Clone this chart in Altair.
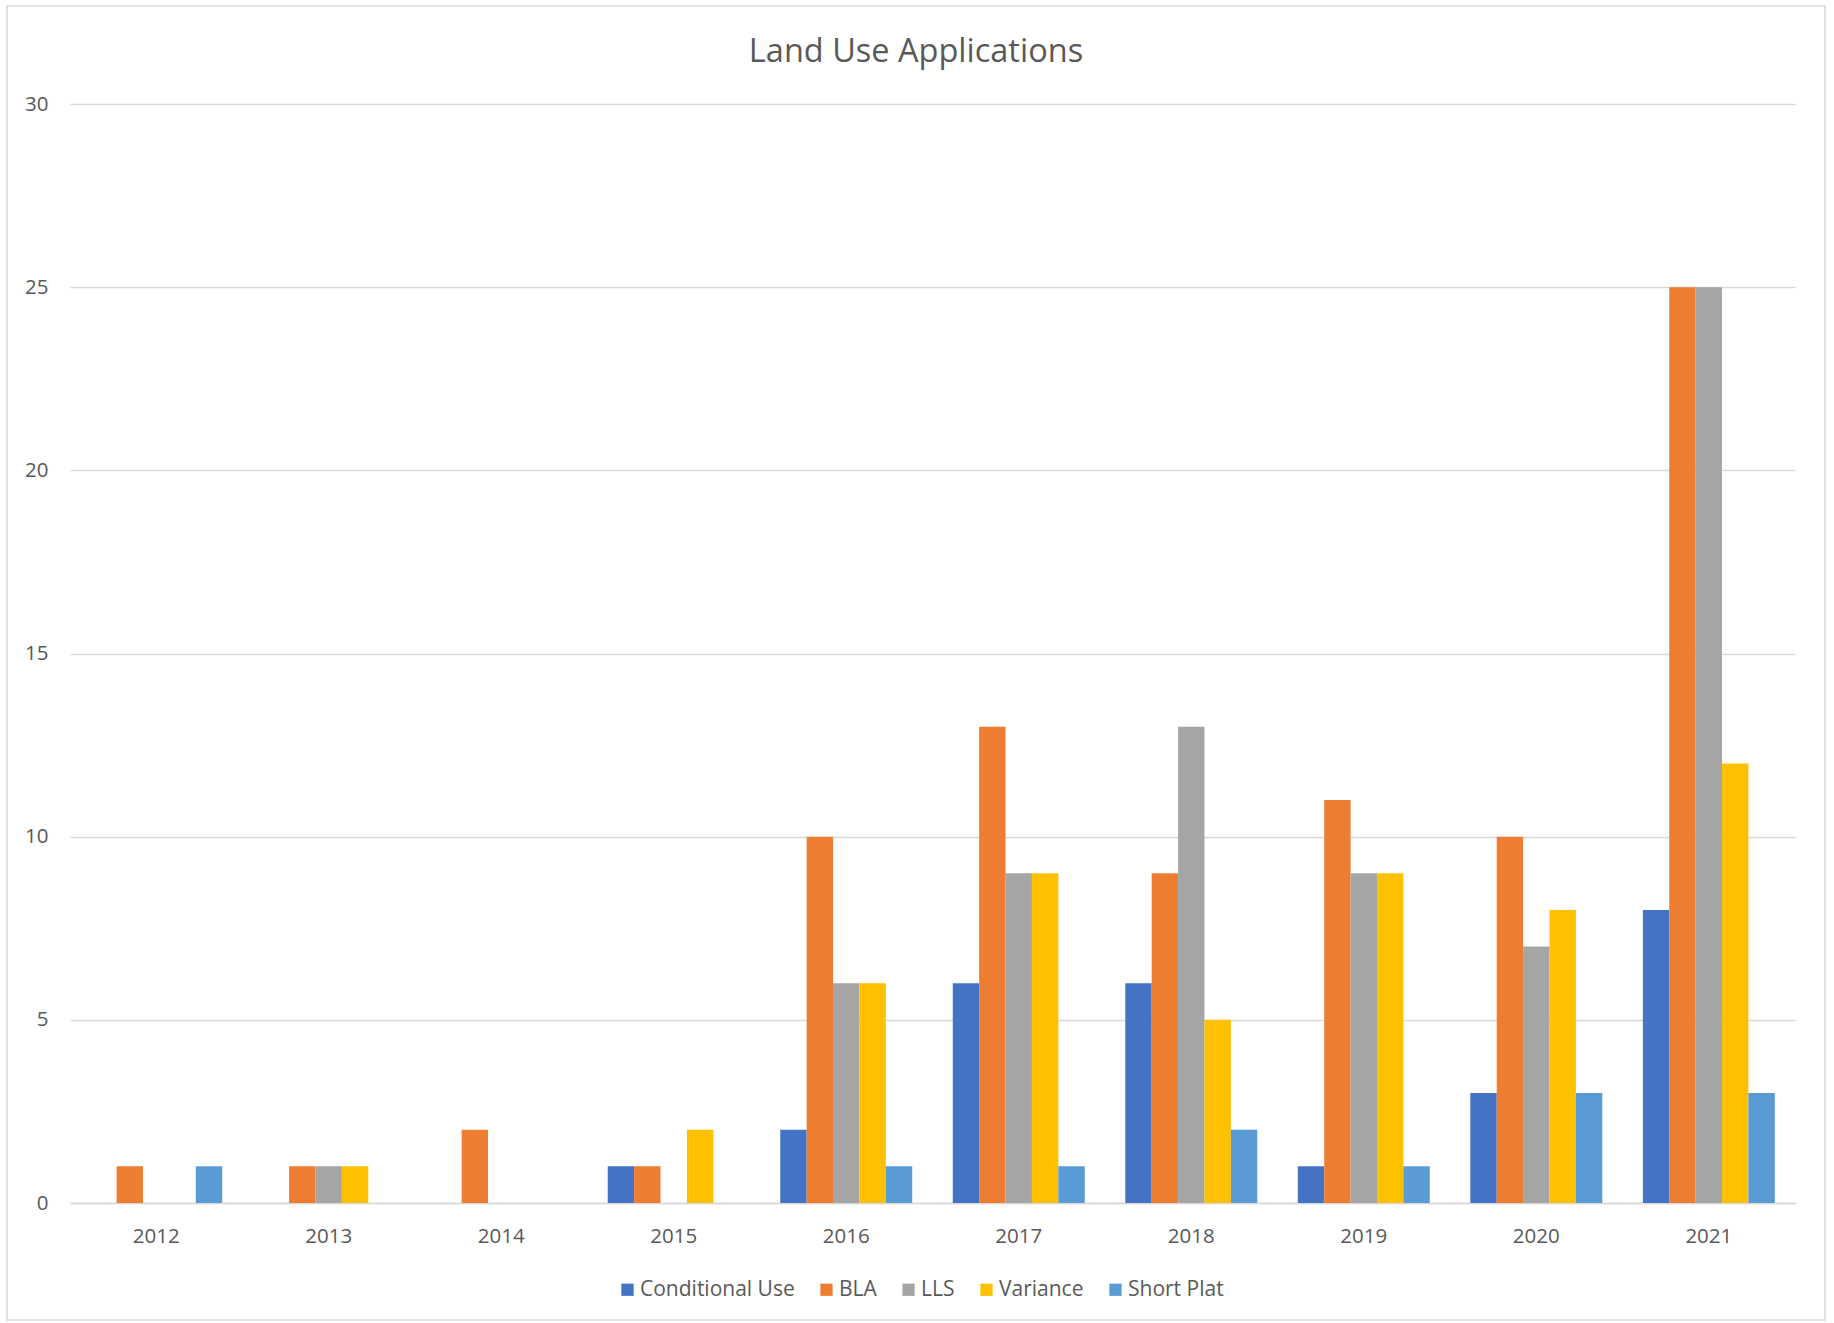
import altair as alt
import pandas as pd

years = ["2012", "2013", "2014", "2015", "2016", "2017", "2018", "2019", "2020", "2021"]
series = ["Conditional Use", "BLA", "LLS", "Variance", "Short Plat"]
conditional_use = [0, 0, 0, 1, 2, 6, 6, 1, 3, 8]
bla = [1, 1, 2, 1, 10, 13, 9, 11, 10, 25]
lls = [0, 1, 0, 0, 6, 9, 13, 9, 7, 25]
variance = [0, 1, 0, 2, 6, 9, 5, 9, 8, 12]
short_plat = [1, 0, 0, 0, 1, 1, 2, 1, 3, 3]
colors = ["#4472C4", "#ED7D31", "#A5A5A5", "#FFC000", "#5B9BD5"]
title_text = "Land Use Applications"

rows = []
for name, vals in zip(series, [conditional_use, bla, lls, variance, short_plat]):
    for y, v in zip(years, vals):
        rows.append({"Year": y, "Type": name, "Count": v})
df = pd.DataFrame(rows)

FONT = "Open Sans"
W, H = 1725, 1099

bars = alt.Chart(df).mark_bar().encode(
    x=alt.X("Year:N", sort=years, title=None,
            scale=alt.Scale(paddingInner=0.235, paddingOuter=0.117),
            axis=alt.Axis(labelAngle=0, labelFontSize=20.5, labelColor="#595959", labelFont=FONT,
                          ticks=False, domain=True, domainColor="#D9D9D9", domainWidth=1.5,
                          labelPadding=23, grid=False)),
    xOffset=alt.XOffset("Type:N", sort=series),
    y=alt.Y("Count:Q", title=None,
            scale=alt.Scale(domain=[0, 30], nice=False),
            axis=alt.Axis(values=[0, 5, 10, 15, 20, 25, 30], labelFontSize=20.5, labelColor="#595959",
                          labelFont=FONT, ticks=False, domain=False, grid=True,
                          gridColor="#D9D9D9", gridWidth=1.5, labelPadding=22)),
    color=alt.Color("Type:N", sort=series, scale=alt.Scale(domain=series, range=colors),
                    legend=alt.Legend(title=None, orient="none", direction="horizontal",
                                      legendX=547, legendY=1175, labelFontSize=21,
                                      labelColor="#595959", labelFont=FONT, symbolType="square",
                                      symbolSize=150, symbolStrokeWidth=0, labelOffset=2,
                                      columnPadding=21)),
)

title = alt.Chart(pd.DataFrame({"t": [title_text]})).mark_text(
    font=FONT, fontSize=32.5, color="#595959", align="center", baseline="middle"
).encode(text="t:N", x=alt.value(846), y=alt.value(-52))

border = alt.Chart(pd.DataFrame({"a": [0]})).mark_rect(
    filled=False, stroke="#D9D9D9", strokeWidth=1.5
).encode(x=alt.value(-63), x2=alt.value(1755), y=alt.value(-98), y2=alt.value(1216))

chart = alt.layer(border, bars, title).properties(
    width=W, height=H,
    autosize=alt.AutoSizeParams(type="none"),
    padding={"left": 70, "top": 104, "right": 39, "bottom": 120},
).configure(background="white").configure_view(stroke="transparent", strokeWidth=0)

chart.save("out.html", embed_options={"renderer": "svg", "actions": False})
